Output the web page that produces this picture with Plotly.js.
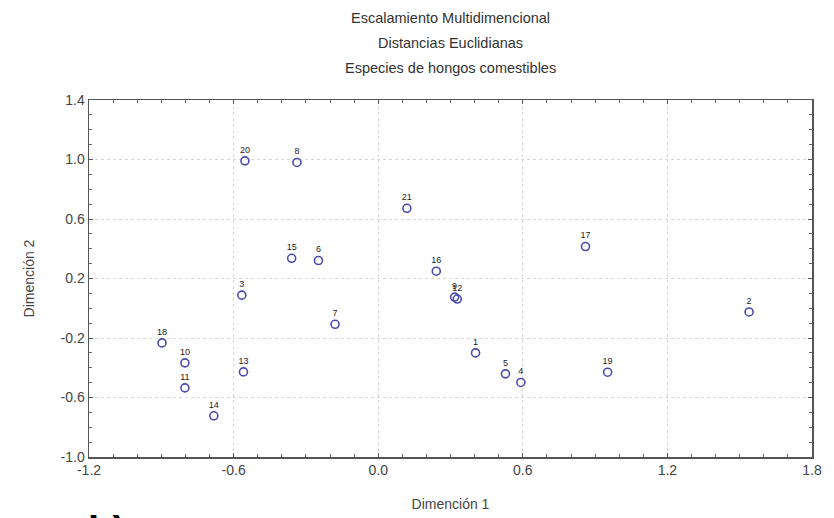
<!DOCTYPE html>
<html>
<head>
<meta charset="utf-8">
<script src="https://cdn.plot.ly/plotly-3.0.1.min.js"></script>
<style>
  html, body { margin: 0; padding: 0; background: #fff; }
  #chart { width: 834px; height: 518px; }
</style>
</head>
<body>
<div id="chart"></div>
<script>
// Species identifiers and their MDS coordinates
const species = ['1','2','3','4','5','6','7','8','9','10','11','12','13','14','15','16','17','18','19','20','21'];
const dim1 = [0.404, 1.539, -0.566, 0.592, 0.528, -0.248, -0.179, -0.337, 0.317, -0.802, -0.802, 0.328, -0.559, -0.682, -0.359, 0.241, 0.860, -0.897, 0.952, -0.553, 0.119];
const dim2 = [-0.300, -0.025, 0.088, -0.499, -0.441, 0.321, -0.108, 0.980, 0.075, -0.367, -0.535, 0.062, -0.428, -0.723, 0.336, 0.249, 0.415, -0.233, -0.430, 0.991, 0.672];

const titleLines = ['Escalamiento Multidimencional', 'Distancias Euclidianas', 'Especies de hongos comestibles'];
const xTicks = [-1.2, -0.6, 0.0, 0.6, 1.2, 1.8];
const yTicks = [-1.0, -0.6, -0.2, 0.2, 0.6, 1.0, 1.4];
const xTickText = ['-1.2', '-0.6', '0.0', '0.6', '1.2', '1.8'];
const yTickText = ['-1.0', '-0.6', '-0.2', '0.2', '0.6', '1.0', '1.4'];

const narrow = '"Liberation Sans Narrow", "Arial Narrow", "Liberation Sans", Arial, sans-serif';
const sans = '"Liberation Sans", Arial, sans-serif';

const trace = {
  x: dim1,
  y: dim2,
  text: species,
  mode: 'markers+text',
  type: 'scatter',
  textposition: 'top center',
  textfont: { family: sans, size: 9, color: '#222' },
  marker: { symbol: 'circle-open', size: 8, color: '#4a4aae', line: { width: 1.6, color: '#4a4aae' } },
  hoverinfo: 'x+y+text',
  cliponaxis: false
};

// small inside ticks every 0.1 between the labelled ones
function minorSteps(lo, hi) {
  const out = [];
  const n = Math.round((hi - lo) / 0.1);
  for (let i = 0; i <= n; i++) out.push(+(lo + i * 0.1).toFixed(2));
  return out;
}

function axis(ticks, labels, titleText, standoff) {
  const lo = ticks[0], hi = ticks[ticks.length - 1];
  return {
    range: [lo, hi],
    tickmode: 'array',
    tickvals: ticks,
    ticktext: labels,
    tickfont: { family: narrow, size: 14, color: '#444' },
    ticks: 'inside',
    ticklen: 4,
    tickcolor: '#555',
    showline: true,
    linecolor: '#555',
    linewidth: 1.5,
    mirror: 'allticks',
    showgrid: true,
    gridcolor: '#d8d8d8',
    griddash: 'dot',
    gridwidth: 1,
    zeroline: false,
    minor: { tickmode: 'array', tickvals: minorSteps(lo, hi), ticks: 'inside', ticklen: 3, tickwidth: 1, tickcolor: '#666', showgrid: false },
    title: { text: titleText, font: { family: sans, size: 14, color: '#444' }, standoff: standoff }
  };
}

const xa = axis(xTicks, xTickText, 'Dimención 1', 22);
const ya = axis(yTicks, yTickText, 'Dimención 2', 22);

const titleY = [18, 43, 68];
const annotations = titleLines.map((t, i) => ({
  text: t,
  xref: 'paper', yref: 'paper',
  x: 0.5, xanchor: 'center',
  y: 1 + (100 - titleY[i]) / 357, yanchor: 'middle',
  showarrow: false,
  font: { family: sans, size: 14.5, color: '#333' }
}));

// panel letter, mostly below the page edge
annotations.push({
  text: '<b>b)</b>',
  xref: 'paper', yref: 'paper',
  x: -0.004, xanchor: 'left',
  y: -0.14, yanchor: 'top',
  showarrow: false,
  font: { family: sans, size: 40, color: '#000' }
});

const layout = {
  width: 834,
  height: 518,
  margin: { l: 89, r: 22, t: 100, b: 61 },
  paper_bgcolor: '#fff',
  plot_bgcolor: '#fff',
  showlegend: false,
  xaxis: xa,
  yaxis: ya,
  annotations: annotations
};

Plotly.newPlot('chart', [trace], layout, { displayModeBar: false, staticPlot: true });
</script>
</body>
</html>
